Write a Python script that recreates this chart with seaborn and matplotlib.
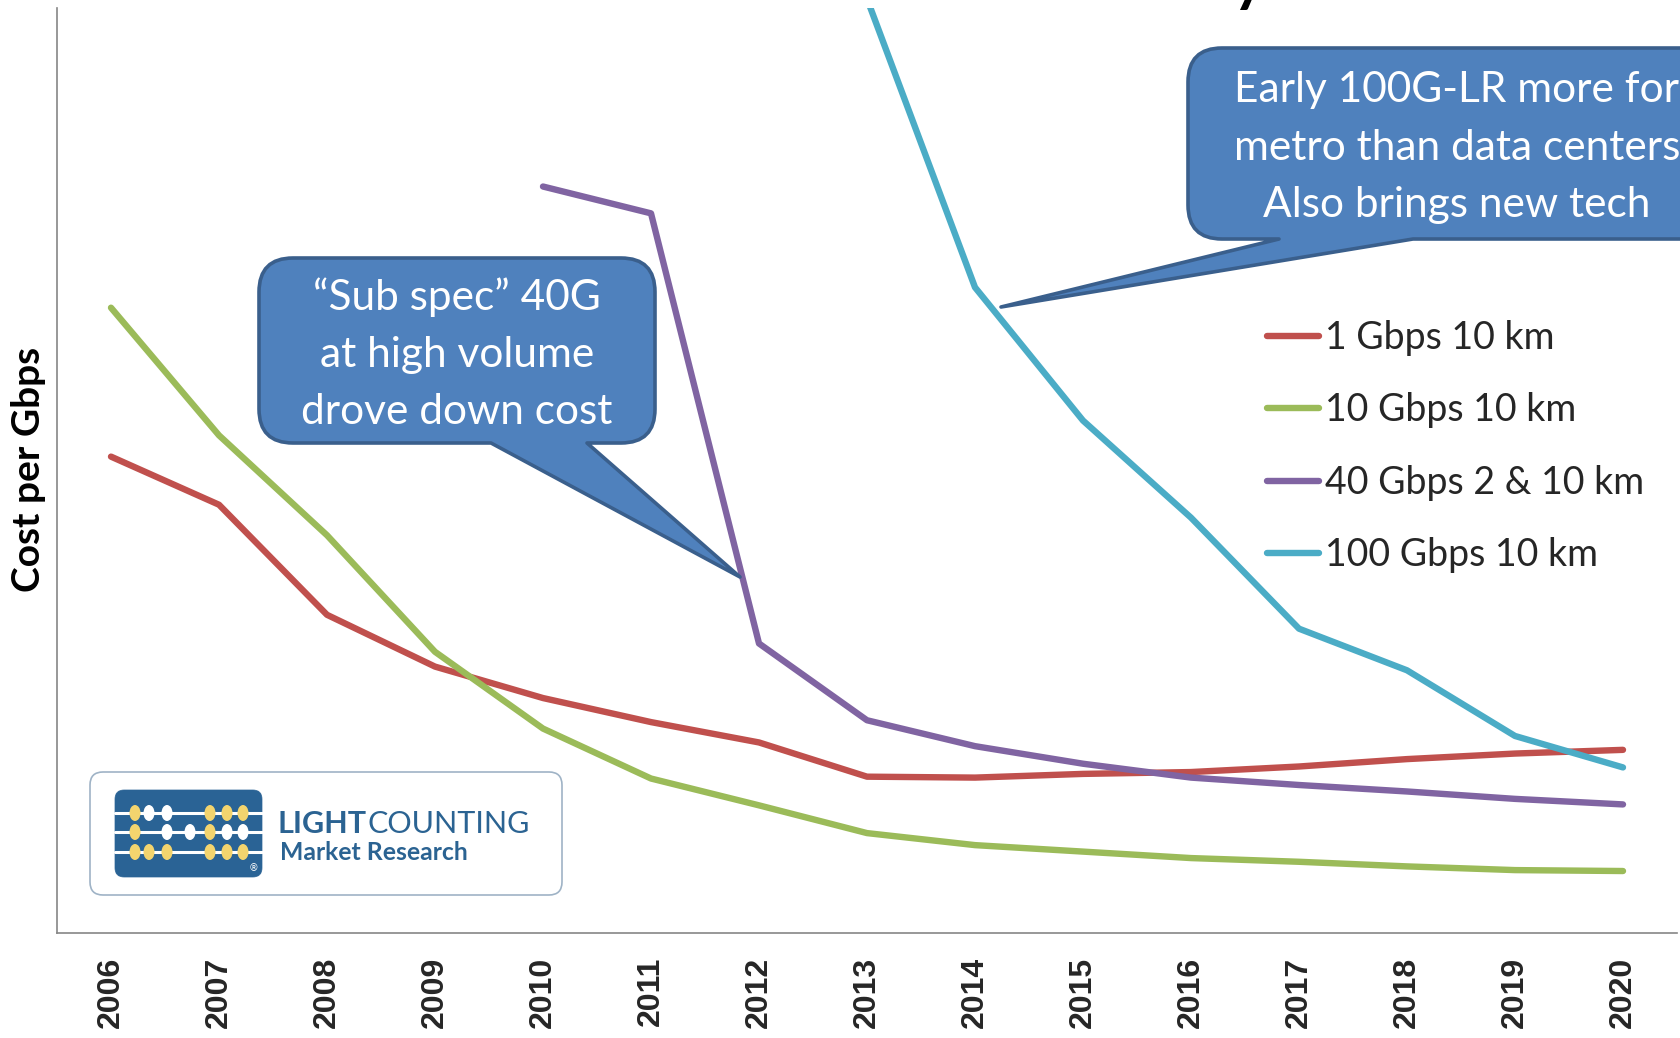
import numpy as np
import pandas as pd
import matplotlib
matplotlib.use("Agg")
import matplotlib.pyplot as plt
import seaborn as sns
from matplotlib.path import Path
from matplotlib.patches import PathPatch, Ellipse
from matplotlib.lines import Line2D

# ---------------- data (relative cost index) ----------------
years = list(range(2006, 2021))
series_names = ["1 Gbps 10 km", "10 Gbps 10 km", "40 Gbps 2 & 10 km", "100 Gbps 10 km"]
cost_1g = [51.5, 46.3, 34.4, 28.8, 25.4, 22.8, 20.6, 16.9, 16.8, 17.2, 17.4, 18.0, 18.8, 19.4, 19.8]
cost_10g = [67.6, 53.8, 43.0, 30.4, 22.1, 16.7, 13.8, 10.8, 9.5, 8.8, 8.1, 7.7, 7.2, 6.8, 6.7]
cost_40g = [np.nan, np.nan, np.nan, np.nan, 80.7, 77.8, 31.3, 23.0, 20.2, 18.3, 16.8, 16.0, 15.3, 14.5, 13.9]
cost_100g = [np.nan] * 7 + [101.0, 69.8, 55.4, 44.9, 32.9, 28.4, 21.3, 17.9]
colors = ["#C0504D", "#9BBB59", "#8064A2", "#4BACC6"]

callout1_lines = ["\u201cSub spec\u201d 40G", "at high volume", "drove down cost"]
callout2_lines = ["Early 100G-LR more for", "metro than data centers", "Also brings new tech"]

rows = []
for name, vals in zip(series_names, [cost_1g, cost_10g, cost_40g, cost_100g]):
    for y, v in zip(years, vals):
        if not np.isnan(v):
            rows.append({"Year": y, "Cost": v, "Series": name})
df = pd.DataFrame(rows)

# ---------------- figure ----------------
sns.set_style("white")
plt.rcParams["font.family"] = ["Lato", "DejaVu Sans"]

W, H = 1681, 1038
fig = plt.figure(figsize=(W / 100, H / 100), dpi=100)
fig.patch.set_facecolor("white")

def fx(x):
    return x / W

def fy(y):
    return 1 - y / H

ax = fig.add_axes([fx(57), fy(933), (1677 - 57) / W, (933 - 8) / H])

sns.lineplot(data=df, x="Year", y="Cost", hue="Series", hue_order=series_names,
             palette=colors, linewidth=4.6, legend=False, errorbar=None, ax=ax)
for ln in ax.lines:
    ln.set_solid_capstyle("round")
    ln.set_solid_joinstyle("round")

ax.set_xlim(2005.5, 2020.5)
ax.set_ylim(0, 100)
ax.set_yticks([])
ax.set_xticks(np.arange(2005.5, 2020.6, 1.0))
ax.set_xticklabels([])
ax.set_xticks(years, minor=True)
ax.set_xticklabels([str(y) for y in years], minor=True, rotation=90,
                   fontfamily="Liberation Sans", fontweight="bold", fontsize=23)
ax.tick_params(axis="x", which="major", length=8, width=1.1, color="#868686", direction="out")
ax.tick_params(axis="x", which="minor", length=0, pad=17)
ax.set_xlabel("")
ax.set_ylabel("")
for s in ["top", "right"]:
    ax.spines[s].set_visible(False)
for s in ["left", "bottom"]:
    ax.spines[s].set_color("#868686")
    ax.spines[s].set_linewidth(1.2)
ax.grid(False)

# y label
fig.text(fx(29), fy(469), "Cost per Gbps", rotation=90, ha="center", va="center",
         fontweight="bold", fontsize=28, color="black")

# title fragment (cropped at top, as in the source slide)
fig.text(fx(1249), 1.0, "y", ha="center", va="baseline", fontweight="bold",
         fontsize=44, color="black")

# legend
handles = [Line2D([], [], color=c, lw=4.6, solid_capstyle="round") for c in colors]
leg = ax.legend(handles, series_names, loc="upper left",
                bbox_to_anchor=(fx(1267), fy(320)), bbox_transform=fig.transFigure,
                frameon=False, fontsize=27, handlelength=1.4, handletextpad=0.15,
                labelspacing=0.97, borderpad=0, borderaxespad=0)

# ---------------- callouts ----------------
def box_path(x0, y0, x1, y1, r, pointer=None):
    verts = []
    codes = []
    def add(pt, code):
        verts.append((fx(pt[0]), fy(pt[1])))
        codes.append(code)
    add((x0 + r, y0), Path.MOVETO)
    add((x1 - r, y0), Path.LINETO)
    add((x1, y0), Path.CURVE3); add((x1, y0 + r), Path.CURVE3)
    add((x1, y1 - r), Path.LINETO)
    add((x1, y1), Path.CURVE3); add((x1 - r, y1), Path.CURVE3)
    if pointer is not None:
        ba, bb, tip = pointer
        add((bb, y1), Path.LINETO)
        add(tip, Path.LINETO)
        add((ba, y1), Path.LINETO)
    add((x0 + r, y1), Path.LINETO)
    add((x0, y1), Path.CURVE3); add((x0, y1 - r), Path.CURVE3)
    add((x0, y0 + r), Path.LINETO)
    add((x0, y0), Path.CURVE3); add((x0 + r, y0), Path.CURVE3)
    add((x0 + r, y0), Path.CLOSEPOLY)
    return Path(verts, codes)

fill_c = "#4F81BD"
edge_c = "#3A5F8C"
p1 = PathPatch(box_path(259, 258, 655, 443, 34, (491, 587, (740, 577))),
               facecolor=fill_c, edgecolor=edge_c, lw=2.6, transform=fig.transFigure,
               zorder=5, joinstyle="round")
fig.add_artist(p1)
p2 = PathPatch(box_path(1188, 48, 1728, 239, 34, (1279, 1413, (1001, 307))),
               facecolor=fill_c, edgecolor=edge_c, lw=2.6, transform=fig.transFigure,
               zorder=5, joinstyle="round")
fig.add_artist(p2)

for txt, yb in zip(callout1_lines, [310, 367, 424]):
    fig.text(fx(457), fy(yb), txt, ha="center", va="baseline", color="white",
             fontsize=30.5, zorder=6)
for txt, yb in zip(callout2_lines, [102, 160, 217]):
    fig.text(fx(1457), fy(yb), txt, ha="center", va="baseline", color="white",
             fontsize=30.5, zorder=6)

# ---------------- logo ----------------
frame = PathPatch(box_path(90, 772, 562, 895, 13), facecolor="white",
                  edgecolor="#9FB3C6", lw=1.2, transform=fig.transFigure, zorder=4)
fig.add_artist(frame)
ab = PathPatch(box_path(115, 790, 262, 877, 9), facecolor="#2A6395",
               edgecolor="#2A6395", lw=0.5, transform=fig.transFigure, zorder=4.1)
fig.add_artist(ab)
bead_rows = [813, 832, 852]
bead_x = [135, 149, 167, 190, 210, 227, 243]
pattern = [
    ["y", "w", "w", None, "y", "y", "y"],
    ["y", None, "w", "w", "y", "w", "w"],
    ["y", "y", "y", None, "y", "y", "y"],
]
for ry in bead_rows:
    fig.add_artist(Line2D([fx(115), fx(262)], [fy(ry), fy(ry)], color="white", lw=2.2,
                          transform=fig.transFigure, zorder=4.2))
for ry, prow in zip(bead_rows, pattern):
    for bx, kind in zip(bead_x, prow):
        if kind is None:
            continue
        col = "#F3D46E" if kind == "y" else "white"
        fig.add_artist(Ellipse((fx(bx), fy(ry)), 11 / W, 16 / H, facecolor=col,
                               edgecolor="none", transform=fig.transFigure, zorder=4.3))
fig.text(fx(254), fy(868), "\u00ae", color="white", fontsize=7, ha="center", va="center",
         zorder=4.4, family=["DejaVu Sans"])

logo_c = "#2B6392"
t_light = fig.text(fx(278), fy(833), "LIGHT", color=logo_c, fontsize=22,
                   fontweight="bold", ha="left", va="baseline", zorder=4.4)
fig.canvas.draw()
bb = t_light.get_window_extent(renderer=fig.canvas.get_renderer())
fig.text(bb.x1 / W, fy(833), "COUNTING", color=logo_c, fontsize=22,
         ha="left", va="baseline", zorder=4.4)
fig.text(fx(280), fy(860), "Market Research", color=logo_c, fontsize=17.8,
         fontweight="bold", ha="left", va="baseline", zorder=4.4)

fig.savefig("out.png", dpi=100, facecolor="white")
